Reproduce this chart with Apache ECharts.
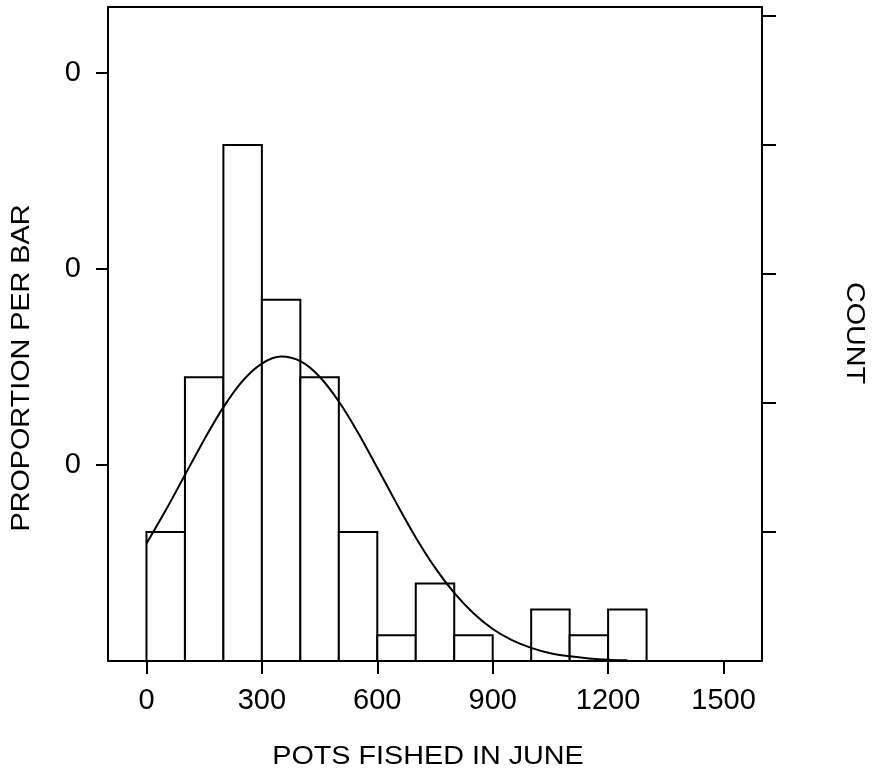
<!DOCTYPE html>
<html>
<head>
<meta charset="utf-8">
<script src="https://cdn.jsdelivr.net/npm/echarts@6/dist/echarts.min.js"></script>
<style>
  html, body { margin: 0; padding: 0; background: #fff; }
  #chart { width: 875px; height: 776px; }
</style>
</head>
<body>
<div id="chart"></div>
<script>
// Histogram of pots fished in June, bins of 100
const binStarts = [0, 100, 200, 300, 400, 500, 600, 700, 800, 900, 1000, 1100, 1200];
const binWidth = 100;
const counts = [5, 11, 20, 14, 11, 5, 1, 3, 1, 0, 2, 1, 2];
const totalCount = 76;

// Fitted normal curve, in count units per bar
const curveX = [0, 50, 100, 150, 200, 250, 300, 350, 400, 450, 500, 550, 600, 650,
  700, 750, 800, 850, 900, 950, 1000, 1050, 1100, 1150, 1200, 1250];
const curveY = [4.55, 5.84, 7.21, 8.58, 9.84, 10.86, 11.53, 11.80, 11.62, 11.02, 10.06,
  8.85, 7.49, 6.11, 4.79, 3.62, 2.64, 1.85, 1.24, 0.81, 0.51, 0.30, 0.18, 0.10, 0.05, 0.03];

const xTicks = [0, 300, 600, 900, 1200, 1500];
const proportionTicks = [0.1, 0.2, 0.3];
const countTicks = [5, 10, 15, 20, 25];

const countMax = 25.35;
const font = 'Liberation Sans, Arial, Helvetica, sans-serif';
const tickFont = 29;
const titleFont = 25;
const titleStretch = 1.15;

const chart = echarts.init(document.getElementById('chart'), null, { renderer: 'canvas' });

const bars = binStarts.map((s, i) => [s, s + binWidth, counts[i]]).filter(d => d[2] > 0);

chart.setOption({
  animation: false,
  backgroundColor: '#fff',
  grid: { left: 108, right: 113, top: 7, bottom: 115, show: false },
  xAxis: [{
    type: 'value', min: -100, max: 1600,
    axisLine: { show: true, lineStyle: { color: '#000', width: 2 } },
    axisTick: { show: true, customValues: xTicks, length: 13, lineStyle: { color: '#000', width: 2 } },
    axisLabel: {
      customValues: xTicks, margin: 25, fontFamily: font, fontSize: tickFont, color: '#000',
      formatter: v => String(v)
    },
    splitLine: { show: false }
  }, {
    type: 'value', position: 'top', min: -100, max: 1600,
    axisLine: { show: true, onZero: false, lineStyle: { color: '#000', width: 2 } },
    axisTick: { show: false }, axisLabel: { show: false }, splitLine: { show: false }
  }],
  yAxis: [{
    type: 'value', position: 'left', min: 0, max: countMax / totalCount,
    axisLine: { show: true, onZero: false, lineStyle: { color: '#000', width: 2 } },
    axisTick: { show: true, customValues: proportionTicks, length: 12, lineStyle: { color: '#000', width: 2 } },
    axisLabel: {
      customValues: proportionTicks, margin: 27, fontFamily: font, fontSize: tickFont, color: '#000',
      formatter: v => v.toFixed(0)
    },
    splitLine: { show: false }
  }, {
    type: 'value', position: 'right', min: 0, max: countMax,
    axisLine: { show: true, onZero: false, lineStyle: { color: '#000', width: 2 } },
    axisTick: { show: true, customValues: countTicks, length: 14, lineStyle: { color: '#000', width: 2 } },
    axisLabel: { show: false },
    splitLine: { show: false }
  }],
  graphic: [{
    type: 'text', x: 428, y: 757, scaleX: titleStretch,
    style: { text: 'POTS FISHED IN JUNE', fontFamily: font, fontSize: titleFont, fill: '#000', align: 'center', verticalAlign: 'middle' }
  }, {
    type: 'text', x: 22, y: 368, rotation: Math.PI / 2, scaleX: titleStretch,
    style: { text: 'PROPORTION PER BAR', fontFamily: font, fontSize: titleFont, fill: '#000', align: 'center', verticalAlign: 'middle' }
  }, {
    type: 'text', x: 854, y: 333, rotation: -Math.PI / 2, scaleX: titleStretch,
    style: { text: 'COUNT', fontFamily: font, fontSize: titleFont, fill: '#000', align: 'center', verticalAlign: 'middle' }
  }],
  series: [{
    type: 'custom',
    xAxisIndex: 0, yAxisIndex: 1,
    data: bars,
    renderItem: (params, api) => {
      const p0 = api.coord([api.value(0), 0]);
      const p1 = api.coord([api.value(1), api.value(2)]);
      return {
        type: 'rect',
        shape: { x: p0[0], y: p1[1], width: p1[0] - p0[0], height: p0[1] - p1[1] },
        style: { fill: '#fff', stroke: '#000', lineWidth: 2 }
      };
    },
    z: 2
  }, {
    type: 'line',
    xAxisIndex: 0, yAxisIndex: 1,
    data: curveX.map((x, i) => [x, curveY[i]]),
    smooth: 0.3, showSymbol: false,
    lineStyle: { color: '#000', width: 2 },
    z: 3
  }]
});
</script>
</body>
</html>
